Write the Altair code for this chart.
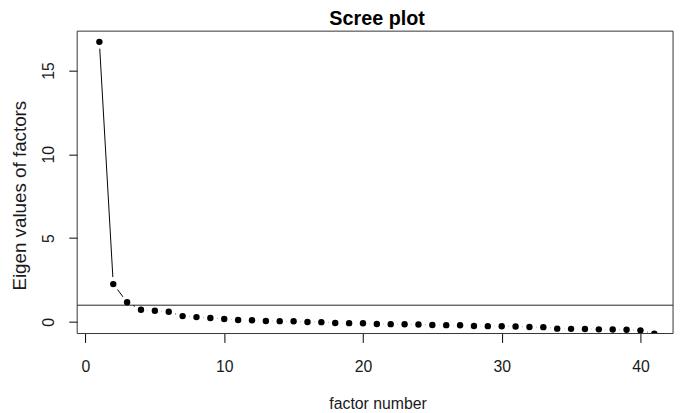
import altair as alt
import pandas as pd

factor_number = list(range(1, 42))
eigen_values = [
    16.71, 2.26, 1.18, 0.73, 0.67, 0.61, 0.35, 0.29, 0.24, 0.18,
    0.12, 0.10, 0.06, 0.05, 0.04, 0.00, -0.01, -0.06, -0.07, -0.08,
    -0.12, -0.13, -0.14, -0.15, -0.18, -0.19, -0.20, -0.24, -0.25, -0.26,
    -0.27, -0.30, -0.31, -0.40, -0.41, -0.42, -0.44, -0.45, -0.46, -0.50,
    -0.70,
]
threshold = [1]
x_ticks = [0, 10, 20, 30, 40]
y_ticks = [0, 5, 10, 15]
chart_title = ["Scree plot"]

W, H = 603, 306
FONT = "Liberation Sans"

df = pd.DataFrame({"factor": factor_number, "eigen": eigen_values})
hdf = pd.DataFrame({"eigen": threshold})
tdf = pd.DataFrame({"title": chart_title})

xscale = alt.Scale(domain=[-0.6, 42.35], nice=False, zero=False)
yscale = alt.Scale(domain=[-0.69, 17.35], nice=False, zero=False)

xaxis = alt.Axis(
    values=x_ticks, title="factor number", labelAngle=0, tickSize=9,
    labelPadding=16, domain=False, grid=False, tickColor="black",
    labelFont=FONT, labelFontSize=16, labelColor="#1a1a1a",
    labelBaseline="top",
    titleFont=FONT, titleFontSize=16, titleFontWeight="normal",
    titleColor="#1a1a1a", titleBaseline="alphabetic", titleY=76, titleX=304,
)
yaxis = alt.Axis(
    values=y_ticks, title="Eigen values of factors", labelAngle=270,
    labelAlign="center", labelBaseline="alphabetic", tickSize=8.5,
    labelPadding=15, domain=False, grid=False, tickColor="black",
    labelFont=FONT, labelFontSize=16, labelColor="#1a1a1a",
    titleFont=FONT, titleFontSize=19, titleFontWeight="normal",
    titleColor="#1a1a1a", titleAngle=270, titleAlign="center",
    titleBaseline="alphabetic", titleX=-52.5, titleY=166,
)

base = alt.Chart(df).encode(
    x=alt.X("factor:Q", scale=xscale, axis=xaxis),
    y=alt.Y("eigen:Q", scale=yscale, axis=yaxis),
)

line = base.mark_line(color="black", strokeWidth=1, clip=True)
halo = base.mark_circle(color="white", opacity=1, size=200, clip=True)
rule = alt.Chart(hdf).mark_rule(color="#222", strokeWidth=1).encode(
    y=alt.Y("eigen:Q", scale=yscale, axis=yaxis)
)
points = base.mark_circle(color="black", opacity=1, size=42, clip=True)
frame = alt.Chart(hdf).mark_rect(
    fillOpacity=0, stroke="#333", strokeWidth=1
).encode(
    x=alt.value(0), x2=alt.value(W), y=alt.value(0), y2=alt.value(H)
)
title = alt.Chart(tdf).mark_text(
    font=FONT, fontSize=20, fontWeight="bold", color="black",
    align="center", baseline="alphabetic",
).encode(
    text="title:N", x=alt.value(W / 2 + 2), y=alt.value(-6.5)
)

chart = alt.layer(line, halo, rule, points, frame, title).properties(
    width=W, height=H,
    autosize=alt.AutoSizeParams(type="none"),
    padding={"left": 70, "top": 21, "right": 4, "bottom": 78},
).configure_view(stroke=None)

chart.save("out.html", embed_options={"renderer": "svg", "actions": False})
